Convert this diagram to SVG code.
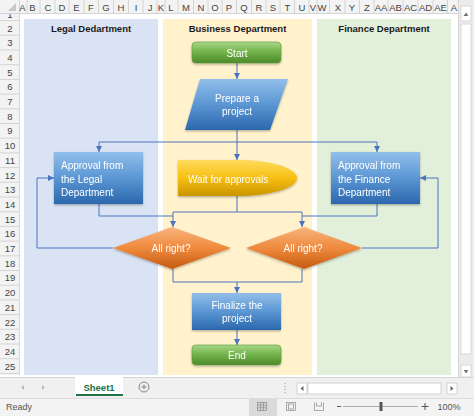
<svg xmlns="http://www.w3.org/2000/svg" width="474" height="416" viewBox="0 0 474 416">
<style>
.hdr{font-family:"Liberation Sans",Arial,sans-serif;font-size:9.5px;fill:#444;text-anchor:middle}
.lane-t{font-family:"Liberation Sans",Arial,sans-serif;font-size:9.5px;font-weight:bold;fill:#1a1a1a;text-anchor:middle}
.st{font-family:"Liberation Sans",Arial,sans-serif;font-size:10px;fill:#fff}
.c{text-anchor:middle}
.grid{stroke:#d4d4d4;stroke-width:1}
.conn{fill:none;stroke:#4a74bf;stroke-width:1}
.ui{font-family:"Liberation Sans",Arial,sans-serif;font-size:9px;fill:#555}
</style>
<defs>
<marker id="arr" viewBox="0 0 6 6" refX="6" refY="3" markerWidth="6" markerHeight="6" markerUnits="userSpaceOnUse" orient="auto">
<path d="M0,0 L6,3 L0,6 Z" fill="#4a74bf"/>
</marker>
<linearGradient id="gGreen" x1="0" y1="0" x2="0" y2="1">
<stop offset="0" stop-color="#a6d888"/><stop offset="0.5" stop-color="#70b147"/><stop offset="1" stop-color="#4d8a2c"/>
</linearGradient>
<linearGradient id="gBlue" x1="0" y1="0" x2="0" y2="1">
<stop offset="0" stop-color="#92bfea"/><stop offset="0.5" stop-color="#5b96d3"/><stop offset="1" stop-color="#2b67ad"/>
</linearGradient>
<linearGradient id="gYellow" x1="0" y1="0" x2="0" y2="1">
<stop offset="0" stop-color="#ffdb5c"/><stop offset="0.5" stop-color="#f7bf12"/><stop offset="1" stop-color="#c99500"/>
</linearGradient>
<linearGradient id="gOrange" x1="0" y1="0" x2="0" y2="1">
<stop offset="0" stop-color="#f8b47f"/><stop offset="0.5" stop-color="#ef8a3d"/><stop offset="1" stop-color="#c55a12"/>
</linearGradient>
<filter id="sh" x="-10%" y="-10%" width="120%" height="130%">
<feDropShadow dx="0" dy="1.2" stdDeviation="1" flood-color="#000" flood-opacity="0.3"/>
</filter>
<clipPath id="row1"><rect x="0" y="14" width="19" height="6.6"/></clipPath>
</defs>

<rect x="0" y="0" width="474" height="416" fill="#fff"/>

<!-- lanes -->
<g id="lanes">
<rect x="24" y="19" width="134" height="356" fill="#dae3f3"/>
<rect x="163" y="19" width="149" height="356" fill="#fff2cc"/>
<rect x="317" y="19" width="134" height="356" fill="#e2efda"/>
<text class="lane-t" x="91" y="31.5">Legal Dedartment</text>
<text class="lane-t" x="237.5" y="31.5">Business Department</text>
<text class="lane-t" x="384" y="31.5">Finance Department</text>
</g>

<!-- column header -->
<g id="colheader">
<rect x="0" y="0" width="458" height="14" fill="#f3f3f3"/>
<line class="grid" x1="0" y1="13.5" x2="458" y2="13.5"/>
<path d="M16,3 L16,11 L8,11 Z" fill="#c8c8c8"/>
<g class="grid">
<line x1="19.5" y1="0" x2="19.5" y2="14"/><line x1="27" y1="0" x2="27" y2="14"/><line x1="40" y1="0" x2="40" y2="14"/><line x1="55" y1="0" x2="55" y2="14"/><line x1="69" y1="0" x2="69" y2="14"/><line x1="84" y1="0" x2="84" y2="14"/><line x1="98.5" y1="0" x2="98.5" y2="14"/><line x1="113.5" y1="0" x2="113.5" y2="14"/><line x1="128.5" y1="0" x2="128.5" y2="14"/><line x1="143" y1="0" x2="143" y2="14"/><line x1="157" y1="0" x2="157" y2="14"/><line x1="165" y1="0" x2="165" y2="14"/><line x1="178" y1="0" x2="178" y2="14"/><line x1="193.5" y1="0" x2="193.5" y2="14"/><line x1="208" y1="0" x2="208" y2="14"/><line x1="222" y1="0" x2="222" y2="14"/><line x1="236.5" y1="0" x2="236.5" y2="14"/><line x1="251.5" y1="0" x2="251.5" y2="14"/><line x1="266" y1="0" x2="266" y2="14"/><line x1="280" y1="0" x2="280" y2="14"/><line x1="294.5" y1="0" x2="294.5" y2="14"/><line x1="309" y1="0" x2="309" y2="14"/><line x1="317" y1="0" x2="317" y2="14"/><line x1="329.5" y1="0" x2="329.5" y2="14"/><line x1="345" y1="0" x2="345" y2="14"/><line x1="359.5" y1="0" x2="359.5" y2="14"/><line x1="374" y1="0" x2="374" y2="14"/><line x1="388" y1="0" x2="388" y2="14"/><line x1="403" y1="0" x2="403" y2="14"/><line x1="418" y1="0" x2="418" y2="14"/><line x1="433" y1="0" x2="433" y2="14"/><line x1="447.5" y1="0" x2="447.5" y2="14"/>
</g>
<g class="hdr">
<text x="22.5" y="10.5">A</text><text x="32.5" y="10.5">B</text><text x="48" y="10.5">C</text><text x="62" y="10.5">D</text><text x="76.5" y="10.5">E</text><text x="91" y="10.5">F</text><text x="106" y="10.5">G</text><text x="121" y="10.5">H</text><text x="136" y="10.5">I</text><text x="150" y="10.5">J</text><text x="161" y="10.5">K</text><text x="171" y="10.5">L</text><text x="186" y="10.5">M</text><text x="201" y="10.5">N</text><text x="215" y="10.5">O</text><text x="229" y="10.5">P</text><text x="244" y="10.5">Q</text><text x="259" y="10.5">R</text><text x="273" y="10.5">S</text><text x="287.5" y="10.5">T</text><text x="302" y="10.5">U</text><text x="313" y="10.5">V</text><text x="322" y="10.5">W</text><text x="338" y="10.5">X</text><text x="352" y="10.5">Y</text><text x="367" y="10.5">Z</text><text x="381" y="10.5">AA</text><text x="395.5" y="10.5">AB</text><text x="410.5" y="10.5">AC</text><text x="425.5" y="10.5">AD</text><text x="440.5" y="10.5">AE</text><text x="454" y="10.5">A</text>
</g>
</g>

<!-- row header -->
<g id="rowheader">
<rect x="0" y="14" width="19.5" height="361" fill="#f3f3f3"/>
<line class="grid" x1="19.5" y1="14" x2="19.5" y2="375"/>
<text class="hdr" x="10" y="17.5" clip-path="url(#row1)">1</text>
<g class="grid">
<line x1="0" y1="20.6" x2="19.5" y2="20.6"/><line x1="0" y1="35.3" x2="19.5" y2="35.3"/><line x1="0" y1="50" x2="19.5" y2="50"/><line x1="0" y1="64.7" x2="19.5" y2="64.7"/><line x1="0" y1="79.4" x2="19.5" y2="79.4"/><line x1="0" y1="94.1" x2="19.5" y2="94.1"/><line x1="0" y1="108.8" x2="19.5" y2="108.8"/><line x1="0" y1="123.5" x2="19.5" y2="123.5"/><line x1="0" y1="138.2" x2="19.5" y2="138.2"/><line x1="0" y1="152.9" x2="19.5" y2="152.9"/><line x1="0" y1="167.6" x2="19.5" y2="167.6"/><line x1="0" y1="182.3" x2="19.5" y2="182.3"/><line x1="0" y1="197" x2="19.5" y2="197"/><line x1="0" y1="211.7" x2="19.5" y2="211.7"/><line x1="0" y1="226.4" x2="19.5" y2="226.4"/><line x1="0" y1="241.1" x2="19.5" y2="241.1"/><line x1="0" y1="255.8" x2="19.5" y2="255.8"/><line x1="0" y1="270.5" x2="19.5" y2="270.5"/><line x1="0" y1="285.2" x2="19.5" y2="285.2"/><line x1="0" y1="299.9" x2="19.5" y2="299.9"/><line x1="0" y1="314.6" x2="19.5" y2="314.6"/><line x1="0" y1="329.3" x2="19.5" y2="329.3"/><line x1="0" y1="344" x2="19.5" y2="344"/><line x1="0" y1="358.7" x2="19.5" y2="358.7"/><line x1="0" y1="373.4" x2="19.5" y2="373.4"/>
</g>
<g class="hdr">
<text x="10" y="31.5">2</text><text x="10" y="46.2">3</text><text x="10" y="60.9">4</text><text x="10" y="75.6">5</text><text x="10" y="90.3">6</text><text x="10" y="105">7</text><text x="10" y="119.7">8</text><text x="10" y="134.4">9</text><text x="10" y="149.1">10</text><text x="10" y="163.8">11</text><text x="10" y="178.5">12</text><text x="10" y="193.2">13</text><text x="10" y="207.9">14</text><text x="10" y="222.6">15</text><text x="10" y="237.3">16</text><text x="10" y="252">17</text><text x="10" y="266.7">18</text><text x="10" y="281.4">19</text><text x="10" y="296.1">20</text><text x="10" y="310.8">21</text><text x="10" y="325.5">22</text><text x="10" y="340.2">23</text><text x="10" y="354.9">24</text><text x="10" y="369.6">25</text>
</g>
</g>

<!-- connectors -->
<g id="connectors" class="conn">
<path d="M237,63 V79" marker-end="url(#arr)"/>
<path d="M237,130 V142 H99 V152" marker-end="url(#arr)"/>
<path d="M237,142 H377 V152" marker-end="url(#arr)"/>
<path d="M237,142 V160" marker-end="url(#arr)"/>
<path d="M237,196 V212 H173 V227" marker-end="url(#arr)"/>
<path d="M237,212 H302 V227" marker-end="url(#arr)"/>
<path d="M99,204 V216 H173"/>
<path d="M377,204 V216 H302"/>
<path d="M113,248 H37 V178 H54" marker-end="url(#arr)"/>
<path d="M362,248 H438 V178 H420" marker-end="url(#arr)"/>
<path d="M173,269 V282 H237 V293" marker-end="url(#arr)"/>
<path d="M302,269 V282 H237"/>
<path d="M237,330 V345" marker-end="url(#arr)"/>
</g>

<!-- nodes -->
<g id="start" filter="url(#sh)">
<rect x="192" y="42" width="89" height="21" rx="4" fill="url(#gGreen)" stroke="#5a9a3a" stroke-width="0.6"/>
<text class="st c" x="237" y="56.5">Start</text>
</g>
<g id="prepare" filter="url(#sh)">
<path d="M200,79 H288 L270,130 H185 Z" fill="url(#gBlue)"/>
<text class="st c" x="237" y="101.5">Prepare a</text>
<text class="st c" x="237" y="114.5">project</text>
</g>
<g id="legal" filter="url(#sh)">
<rect x="54" y="152" width="89" height="52" fill="url(#gBlue)"/>
<text class="st" x="61" y="168.5">Approval from</text>
<text class="st" x="61" y="182.5">the Legal</text>
<text class="st" x="61" y="196">Department</text>
</g>
<g id="finance" filter="url(#sh)">
<rect x="331" y="152" width="89" height="52" fill="url(#gBlue)"/>
<text class="st" x="338" y="168.5">Approval from</text>
<text class="st" x="338" y="182.5">the Finance</text>
<text class="st" x="338" y="196">Department</text>
</g>
<g id="wait" filter="url(#sh)">
<path d="M178,160 H237.5 A59.5,18 0 0 1 237.5,196 H178 Z" fill="url(#gYellow)"/>
<text class="st" x="188" y="182.5">Wait for approvals</text>
</g>
<g id="check-legal" filter="url(#sh)">
<path d="M172,227 L231,248 L172,269 L113,248 Z" fill="url(#gOrange)"/>
<text class="st c" x="171" y="252">All right?</text>
</g>
<g id="check-finance" filter="url(#sh)">
<path d="M304,227 L362,248 L304,269 L246,248 Z" fill="url(#gOrange)"/>
<text class="st c" x="303" y="252">All right?</text>
</g>
<g id="finalize" filter="url(#sh)">
<rect x="192" y="293" width="89" height="37" fill="url(#gBlue)"/>
<text class="st c" x="237" y="308.5">Finalize the</text>
<text class="st c" x="237" y="322">project</text>
</g>
<g id="end" filter="url(#sh)">
<rect x="192" y="345" width="89" height="20" rx="4" fill="url(#gGreen)" stroke="#5a9a3a" stroke-width="0.6"/>
<text class="st c" x="237" y="359">End</text>
</g>

<!-- vertical scrollbar -->
<g id="vscroll">
<rect x="458" y="0" width="16" height="377" fill="#ececec"/>
<line x1="458.5" y1="0" x2="458.5" y2="377" stroke="#d4d4d4"/>
<rect x="461" y="6" width="10" height="15" fill="#fff" stroke="#d0d0d0" stroke-width="0.8"/>
<path d="M463.5,16 L466,12.5 L468.5,16 Z" fill="#777"/>
<rect x="461" y="24" width="10" height="330" fill="#fff" stroke="#d0d0d0" stroke-width="0.8"/>
<rect x="461" y="365" width="10" height="12" fill="#fff" stroke="#d0d0d0" stroke-width="0.8"/>
<path d="M463.5,370 L466,373.5 L468.5,370 Z" fill="#777"/>
</g>

<!-- sheet tabs bar -->
<g id="tabbar">
<rect x="0" y="377" width="474" height="21" fill="#f0f0f0"/>
<line x1="0" y1="377.5" x2="474" y2="377.5" stroke="#d4d4d4"/>
<path d="M24,385 L21,387.5 L24,390 Z" fill="#bbb"/>
<path d="M42,385 L45,387.5 L42,390 Z" fill="#bbb"/>
<rect x="75" y="377" width="48" height="19" fill="#fff"/>
<line x1="76" y1="395" x2="123" y2="395" stroke="#217346" stroke-width="2"/>
<text x="99" y="391" text-anchor="middle" font-family="'Liberation Sans',Arial,sans-serif" font-size="9.5" font-weight="bold" fill="#217346">Sheet1</text>
<circle cx="144" cy="387" r="5" fill="none" stroke="#777" stroke-width="0.9"/>
<path d="M141.5,387 H146.5 M144,384.5 V389.5" stroke="#777" stroke-width="0.9"/>
<g fill="#aaa"><circle cx="285" cy="383.5" r="0.7"/><circle cx="285" cy="386.5" r="0.7"/><circle cx="285" cy="389.5" r="0.7"/><circle cx="285" cy="392.5" r="0.7"/></g>
<rect x="297" y="383" width="10" height="11" fill="#fff" stroke="#c8c8c8" stroke-width="0.8"/>
<path d="M303.5,386 L300.5,388.5 L303.5,391 Z" fill="#666"/>
<rect x="308" y="383" width="133" height="11" fill="#fff" stroke="#c8c8c8" stroke-width="0.8"/>
<rect x="447" y="383" width="10" height="11" fill="#fff" stroke="#c8c8c8" stroke-width="0.8"/>
<path d="M450.5,386 L453.5,388.5 L450.5,391 Z" fill="#666"/>
</g>

<!-- status bar -->
<g id="statusbar">
<rect x="0" y="398" width="474" height="18" fill="#f3f3f3"/>
<line x1="0" y1="398.5" x2="474" y2="398.5" stroke="#dcdcdc"/>
<text class="ui" x="6" y="410">Ready</text>
<rect x="249" y="399" width="28" height="17" fill="#dadada"/>
<g fill="none" stroke="#888" stroke-width="0.7">
<rect x="257.5" y="402.5" width="9" height="8"/>
<path d="M257.5,405.2 H266.5 M257.5,407.8 H266.5 M260.5,402.5 V410.5 M263.5,402.5 V410.5"/>
<rect x="286.5" y="402.5" width="9" height="8"/>
<rect x="288.5" y="404" width="5" height="5"/>
<path d="M314.5,402.5 V410.5 H323.5 V402.5 M316.5,402.5 V406 H321.5 V402.5"/>
</g>
<path d="M337,406.5 H341" stroke="#555" stroke-width="1"/>
<path d="M343,406.5 H418" stroke="#999" stroke-width="0.8"/>
<rect x="379.5" y="402" width="3" height="9" fill="#555"/>
<path d="M421.5,406.5 H428.5 M425,403 V410" stroke="#555" stroke-width="1"/>
<text class="ui" x="449" y="410" text-anchor="middle">100%</text>
</g>
</svg>
